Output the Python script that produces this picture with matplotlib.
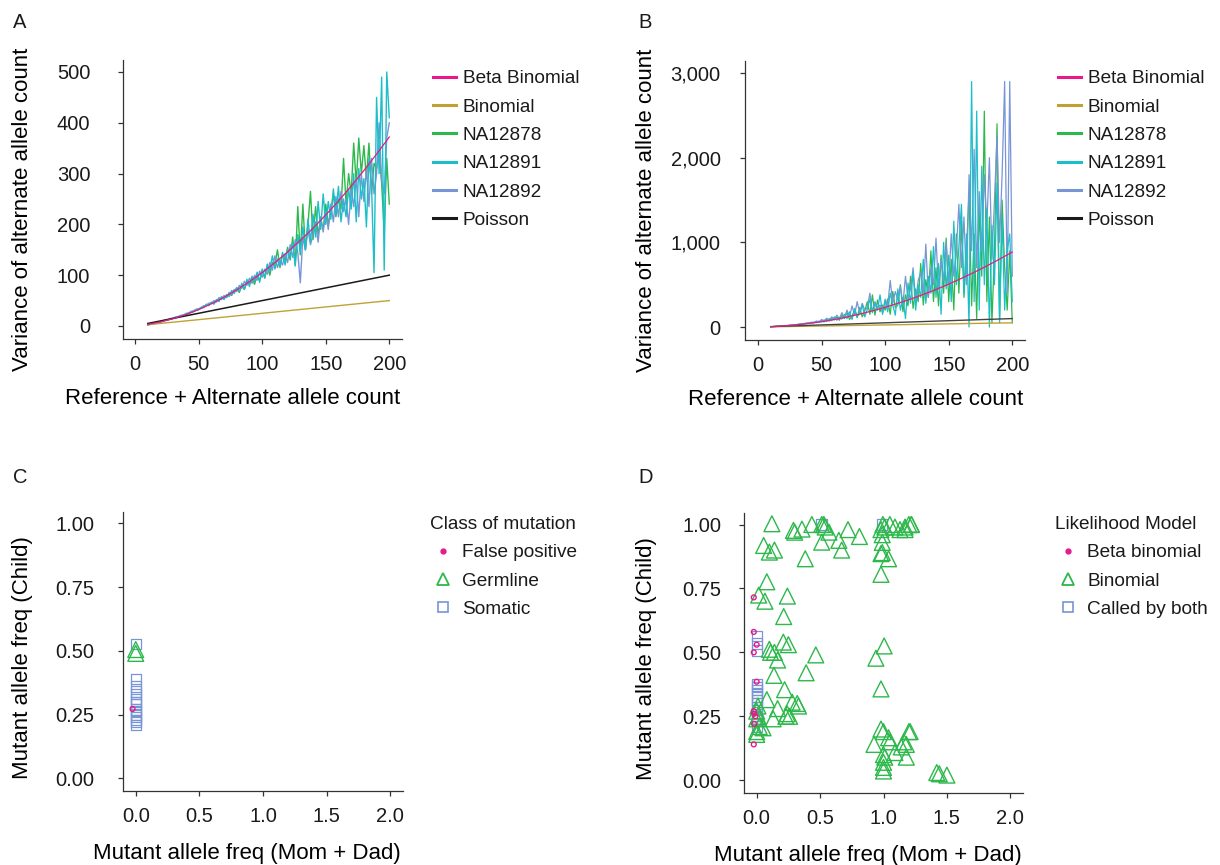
import matplotlib
matplotlib.use('Agg')
import matplotlib.pyplot as plt
from matplotlib.lines import Line2D

plt.rcParams['font.family'] = ['Liberation Sans', 'DejaVu Sans']
plt.rcParams['text.color'] = '#1a1a1a'

# colours
PINK = '#E8198B'
GOLD = '#BFA233'
GREEN = '#2DB84B'
CYAN = '#1BBFC9'
BLUE = '#7895D6'
BLACK = '#1a1a1a'

# ---- panel A / B data ----
x_depth = list(range(10, 201, 2))
x_model = [10, 20, 30, 40, 50, 60, 70, 80, 90, 100,
           110, 120, 130, 140, 150, 160, 170, 180, 190, 200]
x_line = [10, 200]
binomial = [2.5, 50]
poisson = [5, 100]

betabin_a = [3.2, 8.1, 14.5, 22.6, 32.3, 43.7, 56.6, 71.2, 87.4, 105,
             124.6, 145.7, 168.4, 192.6, 218.5, 246, 275.3, 306, 338.4, 372]
na12878_a = [3, 4, 5, 6, 7, 8, 10, 11, 12, 14,
             15, 17, 18, 19, 21, 23, 24, 27, 28, 31,
             33, 35, 38, 41, 42, 46, 44, 50, 53, 54,
             58, 56, 64, 60, 70, 74, 66, 80, 72, 88,
             84, 95, 82, 100, 90, 110, 94, 118, 100, 125,
             120, 150, 115, 140, 128, 155, 130, 175, 120, 235,
             140, 240, 150, 200, 265, 170, 235, 180, 210, 190,
             240, 200, 225, 260, 215, 250, 230, 330, 240, 300,
             260, 360, 280, 370, 300, 355, 290, 360, 260, 320,
             310, 345, 280, 185, 330, 240]
na12891_a = [2, 3, 5, 5, 7, 8, 9, 11, 13, 13,
             16, 16, 19, 20, 22, 22, 26, 26, 30, 32,
             32, 37, 36, 43, 40, 47, 43, 52, 48, 58,
             52, 62, 58, 70, 64, 76, 68, 84, 72, 92,
             78, 98, 88, 106, 86, 112, 96, 122, 108, 138,
             112, 132, 118, 145, 120, 150, 135, 165, 118, 180,
             145, 195, 150, 210, 165, 220, 175, 245, 190, 260,
             200, 245, 210, 270, 220, 275, 205, 250, 215, 270,
             230, 300, 205, 310, 250, 290, 195, 330, 280, 105,
             450, 300, 490, 110, 500, 410]
na12892_a = [2, 4, 4, 6, 7, 9, 9, 12, 12, 15,
             15, 18, 18, 21, 21, 25, 25, 29, 29, 33,
             34, 36, 40, 40, 45, 44, 50, 47, 56, 52,
             60, 56, 66, 62, 72, 68, 80, 74, 88, 80,
             94, 84, 100, 90, 108, 96, 112, 102, 125, 110,
             138, 115, 130, 120, 142, 125, 160, 135, 170, 145,
             85, 175, 150, 190, 160, 180, 205, 165, 215, 185,
             225, 190, 240, 205, 255, 215, 265, 225, 250, 200,
             270, 235, 290, 215, 300, 245, 310, 235, 330, 260,
             300, 400, 285, 260, 370, 400]

betabin_b = [4.4, 13, 25.8, 42.8, 64, 89, 119, 153, 191, 233,
             280, 330, 385, 443, 507, 575, 646, 722, 802, 886]
na12878_b = [4, 6, 8, 9, 12, 14, 16, 19, 22, 25,
             27, 32, 35, 38, 45, 44, 52, 50, 62, 58,
             75, 60, 95, 70, 100, 85, 120, 80, 140, 100,
             170, 90, 130, 200, 110, 230, 120, 190, 300, 150,
             380, 140, 320, 180, 260, 200, 330, 150, 420, 230,
             260, 500, 180, 380, 250, 600, 220, 450, 300, 750,
             260, 560, 350, 900, 300, 700, 250, 850, 400, 1050,
             300, 800, 200, 1100, 400, 1250, 350, 900, 1600, 250,
             1100, 100, 1400, 600, 2550, 300, 1300, 50, 900, 2400,
             100, 1500, 700, 200, 900, 50]
na12891_b = [4, 5, 9, 10, 11, 15, 15, 20, 21, 27,
             26, 34, 32, 42, 40, 50, 45, 60, 52, 70,
             60, 85, 65, 100, 75, 120, 80, 110, 95, 150,
             100, 180, 90, 220, 130, 150, 260, 120, 210, 330,
             170, 280, 200, 380, 150, 310, 180, 400, 260, 140,
             450, 200, 350, 100, 520, 280, 650, 200, 500, 350,
             800, 280, 600, 400, 950, 350, 750, 150, 1000, 450,
             850, 300, 1250, 500, 950, 1450, 400, 1100, 0, 2900,
             300, 2550, 200, 1900, 500, 1400, 0, 1200, 500, 1700,
             50, 1300, 200, 900, 1100, 300]
na12892_b = [4, 5, 7, 11, 11, 12, 17, 17, 24, 23,
             30, 29, 38, 36, 46, 44, 58, 50, 72, 58,
             90, 65, 105, 75, 120, 90, 140, 100, 170, 110,
             200, 120, 250, 140, 300, 170, 280, 200, 230, 400,
             180, 300, 230, 260, 170, 330, 250, 550, 280, 420,
             320, 480, 270, 600, 330, 450, 700, 300, 550, 650,
             400, 980, 350, 700, 500, 1050, 450, 800, 550, 1000,
             500, 1100, 600, 900, 1450, 700, 1300, 500, 1800, 900,
             2100, 700, 1600, 900, 1800, 1200, 2000, 800, 1500, 2250,
             1000, 1800, 2900, 400, 2900, 600]

# ---- panel C data ----
c_fp_x = [-0.025]
c_fp_y = [0.272]
c_germ_x = [0.0, 0.0]
c_germ_y = [0.49, 0.505]
c_som_x = [0.0] * 15
c_som_y = [0.527, 0.39, 0.36, 0.34, 0.33, 0.31, 0.30, 0.29,
           0.27, 0.265, 0.25, 0.24, 0.23, 0.22, 0.21]

# ---- panel D data ----
d_beta_x = [-0.023, -0.023, 0.0, -0.023, 0.0, -0.023, -0.01, -0.02, -0.023, -0.02]
d_beta_y = [0.715, 0.58, 0.53, 0.50, 0.385, 0.27, 0.25, 0.22, 0.14, 0.26]
d_both_x = [0.0, 0.0, 0.0,
            0.0, 0.0, 0.0, 0.0, 0.0, 0.0, 0.0, 0.0, 0.0, 0.0, 0.0, 0.0,
            0.51, 0.99]
d_both_y = [0.564, 0.535, 0.507,
            0.377, 0.365, 0.352, 0.34, 0.327, 0.315, 0.30, 0.285,
            0.265, 0.25, 0.235, 0.21,
            1.0, 1.0]
d_bin_x = [0.12, 0.29, 0.30, 0.357, 0.435, 0.513, 0.53, 0.54, 0.57, 0.513,
           0.648, 0.67, 0.72, 0.81, 0.383, 0.055, 0.10, 0.14, 0.08, 0.016,
           0.065, 0.242, 0.213, 0.21, 0.25, 0.10, 0.11, 0.14, 0.165, 0.466,
           0.136, 0.39, 0.22, 0.08, 0.28, 0.32, 0.33, 0.165, 0.24, 0.23,
           0.26, 0.13, 0.01, 0.0, 0.01, 0.0, 0.05, 0.02, 0.0, 0.0,
           0.995, 1.01, 0.98, 1.05, 1.09, 1.13, 1.17, 1.20, 1.22, 1.22,
           1.17, 0.99, 0.99, 0.98, 0.99, 1.04, 0.98, 1.005, 0.94, 0.98,
           0.98, 1.0, 1.04, 1.05, 0.925, 1.0, 1.01, 1.0, 1.0, 1.0,
           1.09, 1.14, 1.16, 1.18, 1.18, 1.20, 1.21, 1.42, 1.44, 1.50]
d_bin_y = [1.003, 0.977, 0.97, 0.982, 1.0, 1.0, 1.0, 0.99, 0.97, 0.931,
           0.938, 0.90, 0.98, 0.953, 0.866, 0.918, 0.892, 0.90, 0.776, 0.724,
           0.70, 0.72, 0.64, 0.54, 0.53, 0.512, 0.50, 0.50, 0.47, 0.49,
           0.41, 0.42, 0.354, 0.315, 0.305, 0.30, 0.29, 0.28, 0.26, 0.25,
           0.25, 0.24, 0.29, 0.27, 0.25, 0.24, 0.205, 0.21, 0.179, 0.19,
           1.0, 0.99, 0.98, 1.0, 0.99, 0.98, 0.99, 1.0, 1.0, 1.0,
           0.98, 0.96, 0.93, 0.886, 0.89, 0.866, 0.805, 0.525, 0.477, 0.357,
           0.20, 0.19, 0.166, 0.15, 0.14, 0.10, 0.09, 0.07, 0.036, 0.05,
           0.108, 0.13, 0.15, 0.14, 0.09, 0.19, 0.19, 0.03, 0.025, 0.02]

W, H = 1220, 865
fig = plt.figure(figsize=(12.2, 8.65), dpi=100)


def make_axes(l, t, r, b):
    ax = fig.add_axes([l / W, 1 - b / H, (r - l) / W, (b - t) / H])
    for s in ['top', 'right']:
        ax.spines[s].set_visible(False)
    for s in ['left', 'bottom']:
        ax.spines[s].set_color('#333333')
        ax.spines[s].set_linewidth(0.9)
    ax.tick_params(colors='#333333', labelcolor='#1a1a1a', length=3.5,
                   width=0.9, labelsize=14.5)
    ax.tick_params(axis='x', pad=8)
    return ax


# ---- A ----
axA = make_axes(123, 60, 402, 339)
axA.plot(x_depth, na12878_a, color=GREEN, lw=1.0)
axA.plot(x_depth, na12892_a, color=BLUE, lw=1.0)
axA.plot(x_depth, na12891_a, color=CYAN, lw=1.0)
axA.plot(x_line, binomial, color=GOLD, lw=1.0)
axA.plot(x_line, poisson, color=BLACK, lw=1.1)
axA.plot(x_model, betabin_a, color=PINK, lw=0.9)
axA.set_xlim(-9.5, 210)
axA.set_ylim(-25.6, 523.6)
axA.set_xticks([0, 50, 100, 150, 200])
axA.set_yticks([0, 100, 200, 300, 400, 500])
axA.tick_params(axis='y', pad=20)

# ---- B ----
axB = make_axes(745, 61, 1025, 340)
axB.plot(x_depth, na12878_b, color=GREEN, lw=0.9)
axB.plot(x_depth, na12892_b, color=BLUE, lw=0.9)
axB.plot(x_depth, na12891_b, color=CYAN, lw=0.9)
axB.plot(x_line, binomial, color=GOLD, lw=1.0)
axB.plot(x_line, poisson, color='#444444', lw=1.0)
axB.plot(x_model, betabin_b, color=PINK, lw=0.9)
axB.set_xlim(-10.2, 210)
axB.set_ylim(-153, 3142)
axB.set_xticks([0, 50, 100, 150, 200])
axB.set_yticks([0, 1000, 2000, 3000])
axB.set_yticklabels(['0', '1,000', '2,000', '3,000'])
axB.tick_params(axis='y', pad=14)

line_labels = ['Beta Binomial', 'Binomial', 'NA12878', 'NA12891', 'NA12892', 'Poisson']
line_colors = [PINK, GOLD, GREEN, CYAN, BLUE, BLACK]

for ax, lx in [(axA, 433), (axB, 1058)]:
    ax.set_xlabel('Reference + Alternate allele count', fontsize=16)
    ax.set_ylabel('Variance of alternate allele count', fontsize=16)
    handles = [Line2D([], [], color=c, lw=2.2) for c in line_colors]
    fig.legend(handles, line_labels, loc='upper left',
               bbox_to_anchor=(lx / W, 1 - 70 / H), frameon=False,
               fontsize=13.7, borderpad=0, borderaxespad=0,
               handlelength=1.2, handletextpad=0.37, labelspacing=0.58)

axA.xaxis.set_label_coords(0.394, -0.176)
axA.yaxis.set_label_coords(-0.323, 0.466)
axB.xaxis.set_label_coords(0.395, -0.176)
axB.yaxis.set_label_coords(-0.314, 0.466)

# ---- C ----
axC = make_axes(123, 512, 403, 791)
axC.scatter(c_som_x, c_som_y, s=55, marker='s', facecolors='none',
            edgecolors=BLUE, linewidths=0.9)
axC.scatter(c_germ_x, c_germ_y, s=130, marker='^', facecolors='none',
            edgecolors=GREEN, linewidths=1.0)
axC.scatter(c_fp_x, c_fp_y, s=12, marker='o', facecolors='none',
            edgecolors=PINK, linewidths=1.0)
axC.tick_params(axis='y', pad=17)

# ---- D ----
axD = make_axes(744, 513, 1023, 793)
axD.scatter(d_both_x, d_both_y, s=55, marker='s', facecolors='none',
            edgecolors=BLUE, linewidths=0.9)
axD.scatter(d_bin_x, d_bin_y, s=130, marker='^', facecolors='none',
            edgecolors=GREEN, linewidths=1.0)
axD.scatter(d_beta_x, d_beta_y, s=12, marker='o', facecolors='none',
            edgecolors=PINK, linewidths=1.0)
axD.tick_params(axis='y', pad=13)

for ax in [axC, axD]:
    ax.set_xlim(-0.1, 2.1)
    ax.set_ylim(-0.05, 1.045)
    ax.set_xticks([0, 0.5, 1.0, 1.5, 2.0])
    ax.set_xticklabels(['0.0', '0.5', '1.0', '1.5', '2.0'])
    ax.set_yticks([0, 0.25, 0.5, 0.75, 1.0])
    ax.set_yticklabels(['0.00', '0.25', '0.50', '0.75', '1.00'])
    ax.set_xlabel('Mutant allele freq (Mom + Dad)', fontsize=16)
    ax.set_ylabel('Mutant allele freq (Child)', fontsize=16)

axC.xaxis.set_label_coords(0.443, -0.186)
axC.yaxis.set_label_coords(-0.321, 0.48)
axD.xaxis.set_label_coords(0.444, -0.186)
axD.yaxis.set_label_coords(-0.312, 0.48)

pt_handles = [
    Line2D([], [], ls='none', marker='o', ms=3.5, color=PINK),
    Line2D([], [], ls='none', marker='^', ms=9, mfc='none', mec=GREEN, mew=1.3),
    Line2D([], [], ls='none', marker='s', ms=7, mfc='none', mec=BLUE, mew=1.2),
]
for labels, title, lx in [(['False positive', 'Germline', 'Somatic'], 'Class of mutation', 430),
                          (['Beta binomial', 'Binomial', 'Called by both'], 'Likelihood Model', 1055)]:
    fig.legend(pt_handles, labels, title=title, loc='upper left',
               bbox_to_anchor=(lx / W, 1 - 516 / H), frameon=False,
               fontsize=13.7, title_fontsize=13.7, alignment='left',
               borderpad=0, borderaxespad=0, handlelength=1.37,
               handletextpad=0.32, labelspacing=0.58)

for letter, px, py in [('A', 13, 28), ('B', 638, 28), ('C', 13, 483), ('D', 638, 483)]:
    fig.text(px / W, 1 - py / H, letter, fontsize=14.5, va='baseline', ha='left')

fig.savefig('out.png', dpi=100)
